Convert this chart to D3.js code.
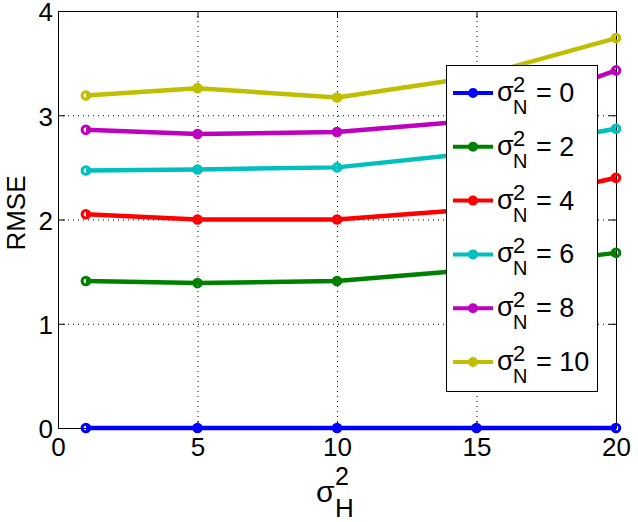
<!DOCTYPE html>
<html>
<head>
<meta charset="utf-8">
<script src="https://cdn.jsdelivr.net/npm/d3@7"></script>
<style>
  body { margin: 0; background: #fff; }
  svg { display: block; font-family: "Liberation Sans", Arial, sans-serif; }
</style>
</head>
<body>
<svg id="chart" width="638" height="522"></svg>
<script>
// values
const hVar = [1, 5, 10, 15, 20];
const noiseVar = [0, 2, 4, 6, 8, 10];
const rmseN0 = [0, 0, 0, 0, 0];
const rmseN2 = [1.41, 1.39, 1.41, 1.52, 1.68];
const rmseN4 = [2.05, 2.00, 2.00, 2.10, 2.40];
const rmseN6 = [2.47, 2.48, 2.50, 2.64, 2.87];
const rmseN8 = [2.86, 2.82, 2.84, 2.95, 3.43];
const rmseN10 = [3.19, 3.26, 3.17, 3.37, 3.74];
const xTicks = [0, 5, 10, 15, 20];
const yTicks = [0, 1, 2, 3, 4];

const colors = ["#0000ff", "#008000", "#ff0000", "#00bfbf", "#bf00bf", "#bfbf00"];
const allSeries = [rmseN0, rmseN2, rmseN4, rmseN6, rmseN8, rmseN10];

const svg = d3.select("#chart");
const plot = { left: 58, right: 616, top: 11, bottom: 428 };

const x = d3.scaleLinear().domain([0, 20]).range([plot.left, plot.right]);
const y = d3.scaleLinear().domain([0, 4]).range([plot.bottom, plot.top]);

svg.append("rect").attr("width", 638).attr("height", 522).attr("fill", "#fff");

// dotted grid
const grid = svg.append("g").attr("stroke", "#000").attr("stroke-width", 1)
  .attr("stroke-dasharray", "1,4");
grid.selectAll(".gx").data(xTicks.slice(1, -1)).enter().append("line")
  .attr("x1", d => x(d) + 0.5).attr("x2", d => x(d) + 0.5)
  .attr("y1", plot.top).attr("y2", plot.bottom);
grid.selectAll(".gy").data(yTicks.slice(1, -1)).enter().append("line")
  .attr("y1", d => y(d) + 0.5).attr("y2", d => y(d) + 0.5)
  .attr("x1", plot.left).attr("x2", plot.right);

// axes (ticks inward, box on)
function styleAxis(g) {
  g.select(".domain").attr("stroke", "#000").attr("stroke-width", 1);
  g.selectAll(".tick line").attr("stroke", "#000");
  g.selectAll(".tick text").attr("fill", "#000").attr("font-size", 26)
    .attr("font-family", "Liberation Sans, Arial, sans-serif");
}
const fmt = d3.format("d");

svg.append("g").attr("transform", `translate(0,${plot.bottom})`)
  .call(d3.axisBottom(x).tickValues(xTicks).tickFormat(fmt).tickSize(-7).tickSizeOuter(0).tickPadding(10))
  .call(styleAxis);
svg.append("g").attr("transform", `translate(0,${plot.top})`)
  .call(d3.axisTop(x).tickValues(xTicks).tickSize(-7).tickSizeOuter(0).tickFormat(""))
  .call(styleAxis);
svg.append("g").attr("transform", `translate(${plot.left},0)`)
  .call(d3.axisLeft(y).tickValues(yTicks).tickFormat(fmt).tickSize(-7).tickSizeOuter(0).tickPadding(5))
  .call(styleAxis)
  .call(g => g.selectAll(".tick text").attr("dy", "0.38em"));
svg.append("g").attr("transform", `translate(${plot.right},0)`)
  .call(d3.axisRight(y).tickValues(yTicks).tickSize(-7).tickSizeOuter(0).tickFormat(""))
  .call(styleAxis);

// series lines and markers
const line = d3.line().x((d, i) => x(hVar[i])).y(d => y(d));
allSeries.forEach((vals, k) => {
  const g = svg.append("g");
  g.append("path").datum(vals).attr("d", line)
    .attr("fill", "none").attr("stroke", colors[k]).attr("stroke-width", 4.5)
    .attr("stroke-linejoin", "round");
  g.selectAll("circle").data(vals).enter().append("circle")
    .attr("cx", (d, i) => x(hVar[i])).attr("cy", d => y(d)).attr("r", 3.8)
    .attr("fill", "none").attr("stroke", colors[k]).attr("stroke-width", 3);
});

// y label
svg.append("text").attr("transform", "translate(25,213) rotate(-90)")
  .attr("text-anchor", "middle").attr("font-size", 26).text("RMSE");

// x label: sigma_H^2
const xl = svg.append("g");
xl.append("text").attr("x", 316).attr("y", 502).attr("font-size", 30).text("σ");
xl.append("text").attr("x", 335).attr("y", 485).attr("font-size", 25).text("2");
xl.append("text").attr("x", 335).attr("y", 517).attr("font-size", 26).text("H");

// legend
const legend = svg.append("g");
legend.append("rect").attr("x", 446.5).attr("y", 65.5).attr("width", 151).attr("height", 326)
  .attr("fill", "#fff").attr("stroke", "#000").attr("stroke-width", 1);
const rowY = d3.scaleLinear().domain([0, noiseVar.length - 1]).range([93, 362]);
noiseVar.forEach((n, k) => {
  const cy = rowY(k);
  legend.append("line").attr("x1", 453).attr("x2", 493).attr("y1", cy).attr("y2", cy)
    .attr("stroke", colors[k]).attr("stroke-width", 4);
  legend.append("circle").attr("cx", 473).attr("cy", cy).attr("r", 4)
    .attr("fill", colors[k]).attr("stroke", colors[k]).attr("stroke-width", 2);
  legend.append("text").attr("x", 497).attr("y", cy + 8).attr("font-size", 27).text("σ");
  legend.append("text").attr("x", 513).attr("y", cy - 1).attr("font-size", 22).text("2");
  legend.append("text").attr("x", 513).attr("y", cy + 21).attr("font-size", 20).text("N");
  legend.append("text").attr("x", 536).attr("y", cy + 9).attr("font-size", 27).text(`= ${n}`);
});
</script>
</body>
</html>
